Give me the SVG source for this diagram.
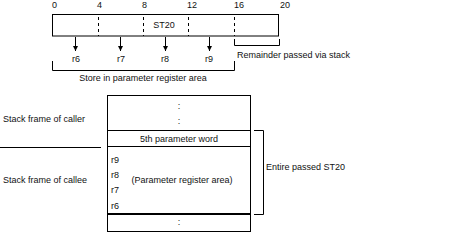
<svg xmlns="http://www.w3.org/2000/svg" width="452" height="236" viewBox="0 0 452 236">
<style>
text{font-family:"Liberation Sans",Arial,sans-serif;font-size:9px;fill:#111}
.c{text-anchor:middle}
.ln{stroke:#000;stroke-width:1;fill:none}
.dash{stroke:#000;stroke-width:1;stroke-dasharray:3,3;fill:none}
.ar{stroke:#000;stroke-width:1;fill:none;marker-end:url(#ah)}
</style>
<defs>
<marker id="ah" viewBox="0 0 5 5" refX="5" refY="2.5" markerWidth="5" markerHeight="5" markerUnits="userSpaceOnUse" orient="auto">
<path d="M0,0 L5,2.5 L0,5 Z" fill="#000"/>
</marker>
</defs>
<g id="scale">
<text x="52" y="8">0</text>
<text x="97" y="8">4</text>
<text x="142" y="8">8</text>
<text x="187" y="8">12</text>
<text x="234" y="8">16</text>
<text x="280" y="8">20</text>
</g>
<g id="st20">
<rect class="ln" x="52.5" y="14.5" width="226" height="21.5"/>
<line class="dash" x1="98.5" y1="17" x2="98.5" y2="36"/>
<line class="dash" x1="143.5" y1="17" x2="143.5" y2="36"/>
<line class="dash" x1="188.5" y1="17" x2="188.5" y2="36"/>
<line class="dash" x1="234.5" y1="17" x2="234.5" y2="36"/>
<text class="c" x="164" y="28">ST20</text>
</g>
<g id="connectors">
<line class="ar" x1="75.5" y1="37" x2="75.5" y2="51"/>
<line class="ar" x1="120.5" y1="37" x2="120.5" y2="51"/>
<line class="ar" x1="165.5" y1="37" x2="165.5" y2="51"/>
<line class="ar" x1="209.5" y1="37" x2="209.5" y2="51"/>
<path class="ln" d="M52.5,61 V70.5 H234.5 V61"/>
<path class="ln" d="M234.5,39 V45.5 H279.5 V39"/>
<path class="ln" d="M254,130.5 H263.5 V214.5 H254"/>
<line class="ln" x1="0" y1="147.5" x2="101" y2="147.5"/>
</g>
<g id="regs">
<text class="c" x="76" y="62">r6</text>
<text class="c" x="121" y="62">r7</text>
<text class="c" x="165" y="62">r8</text>
<text class="c" x="209" y="62">r9</text>
<text class="c" x="143" y="81">Store in parameter register area</text>
<text x="237" y="58">Remainder passed via stack</text>
</g>
<g id="labels">
<text x="3" y="122">Stack frame of caller</text>
<text x="3" y="182.5">Stack frame of callee</text>
<text x="266" y="170">Entire passed ST20</text>
</g>
<g id="stack">
<rect class="ln" x="107.5" y="95.5" width="143" height="136"/>
<line class="ln" x1="107.5" y1="130.5" x2="250.5" y2="130.5"/>
<line class="ln" x1="107.5" y1="146.5" x2="250.5" y2="146.5"/>
<line x1="107.5" y1="214" x2="250.5" y2="214" stroke="#000" stroke-width="2"/>
<text class="c" x="179" y="109">:</text>
<text class="c" x="179" y="124">:</text>
<text class="c" x="179" y="142">5th parameter word</text>
<text x="111" y="163">r9</text>
<text x="111" y="178">r8</text>
<text x="111" y="193">r7</text>
<text x="111" y="209">r6</text>
<text class="c" x="182" y="182.5">(Parameter register area)</text>
<text class="c" x="179" y="225">:</text>
</g>
</svg>
